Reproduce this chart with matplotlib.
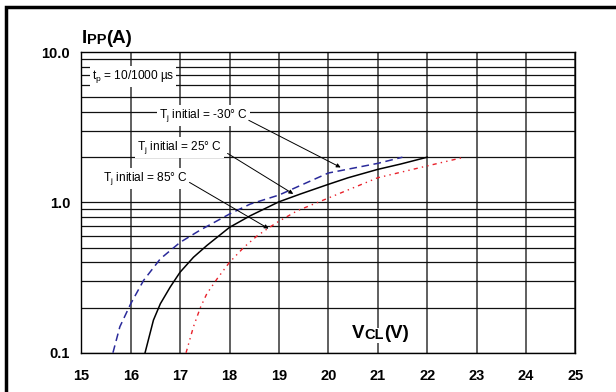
import matplotlib
matplotlib.use('Agg')
import matplotlib.pyplot as plt
from matplotlib.patches import Rectangle

plt.rcParams['font.family'] = ['Liberation Sans', 'DejaVu Sans']
plt.rcParams['mathtext.default'] = 'regular'

# Curve data (Vcl in V, Ipp in A)
v_m30 = [15.64, 15.78, 16.0, 16.26, 16.6, 17.0, 17.41, 18.0, 18.42, 19.0, 20.0, 21.0, 21.5]
i_m30 = [0.1, 0.149, 0.212, 0.303, 0.422, 0.543, 0.656, 0.838, 0.976, 1.12, 1.57, 1.82, 2.0]

v_25 = [16.29, 16.46, 16.6, 16.8, 17.0, 17.27, 17.54, 18.0, 18.42, 19.0, 19.44, 20.0, 20.4, 21.0, 21.46, 22.0]
i_25 = [0.1, 0.165, 0.212, 0.274, 0.344, 0.432, 0.517, 0.683, 0.816, 1.01, 1.14, 1.32, 1.46, 1.66, 1.80, 2.0]

v_85 = [17.12, 17.27, 17.41, 17.54, 17.75, 18.0, 18.29, 18.56, 18.83, 19.0, 19.37, 20.0, 21.0, 22.0, 22.75]
i_85 = [0.1, 0.149, 0.2, 0.247, 0.311, 0.4, 0.503, 0.6, 0.69, 0.75, 0.88, 1.07, 1.46, 1.75, 2.0]

x_ticks = list(range(15, 26))
y_ticks = [0.1, 1.0, 10.0]
y_labels = ['0.1', '1.0', '10.0']

fig = plt.figure(figsize=(6.16, 3.92), dpi=100)
ax = fig.add_axes([0.132, 0.1, 0.802, 0.767])

ax.set_yscale('log')
ax.set_xlim(15, 25)
ax.set_ylim(0.1, 10)

# grid
for v in x_ticks:
    ax.axvline(v, color='#444444', lw=1.2, zorder=1)
for dec in [0.1, 1.0]:
    for k in range(1, 10):
        ax.axhline(dec * k, color='#111111', lw=0.9, zorder=1)

ax.plot(v_m30, i_m30, color='#2a2a9a', lw=1.1, linestyle=(0, (5, 3)), zorder=3)
ax.plot(v_25, i_25, color='black', lw=1.1, zorder=3)
ax.plot(v_85, i_85, color='#e8202a', lw=1.0, linestyle=(0, (3, 3, 1, 3, 1, 3)), zorder=3)

ax.set_xticks(x_ticks)
ax.set_xticklabels([str(v) for v in x_ticks], fontweight='bold', fontsize=10.5)
ax.set_yticks(y_ticks)
ax.set_yticklabels(y_labels, fontweight='bold', fontsize=10.5)
ax.minorticks_off()
ax.tick_params(axis='both', length=0)
ax.tick_params(axis='x', pad=12)
ax.tick_params(axis='y', pad=8)
for s in ax.spines.values():
    s.set_linewidth(1.0)

bb = dict(fc='white', ec='none', pad=1.5)
txt_kw = dict(fontsize=8.6, ha='center', va='center', bbox=bb, zorder=5)
ax.text(16.05, 6.9, r't$_p$ = 10/1000 µs', **txt_kw)

arrow = dict(arrowstyle='-|>', color='black', lw=0.7, mutation_scale=6, shrinkA=0, shrinkB=0)
ax.text(17.47, 3.8, r'T$_j$ initial = -30° C', **txt_kw)
ax.annotate('', xy=(20.25, 1.71), xytext=(18.39, 3.52), arrowprops=arrow, zorder=6)
ax.text(16.98, 2.33, r'T$_j$ initial = 25° C', **txt_kw)
ax.annotate('', xy=(19.29, 1.14), xytext=(17.96, 2.12), arrowprops=arrow, zorder=6)
ax.text(16.3, 1.45, r'T$_j$ initial = 85° C', **txt_kw)
ax.annotate('', xy=(18.79, 0.67), xytext=(17.19, 1.36), arrowprops=arrow, zorder=6)

# axis titles with small-caps style subscripts
t1 = ax.text(15.0, 11.5, 'I', fontsize=13.5, fontweight='bold', ha='left', va='baseline')
t2 = ax.annotate('PP', xy=(1, 0), xycoords=t1, fontsize=10.5, fontweight='bold', va='bottom')
ax.annotate('(A)', xy=(1, 0), xycoords=t2, fontsize=13.5, fontweight='bold', va='bottom')

v1 = ax.text(20.48, 0.125, 'V', fontsize=13.5, fontweight='bold', ha='left', va='baseline',
             bbox=dict(fc='white', ec='none', pad=0.5), zorder=5)
v2 = ax.annotate('CL', xy=(1, 0), xycoords=v1, fontsize=10.5, fontweight='bold', va='bottom',
                 bbox=dict(fc='white', ec='none', pad=0.5), zorder=5)
ax.annotate('(V)', xy=(1, 0), xycoords=v2, fontsize=13.5, fontweight='bold', va='bottom',
            bbox=dict(fc='white', ec='none', pad=0.5), zorder=5)

# outer frame
fig.patches.append(Rectangle((0.009, -0.05), 1.2, 1.032, transform=fig.transFigure,
                             fill=False, lw=2.5, ec='black'))

fig.savefig('out.png', dpi=100)
